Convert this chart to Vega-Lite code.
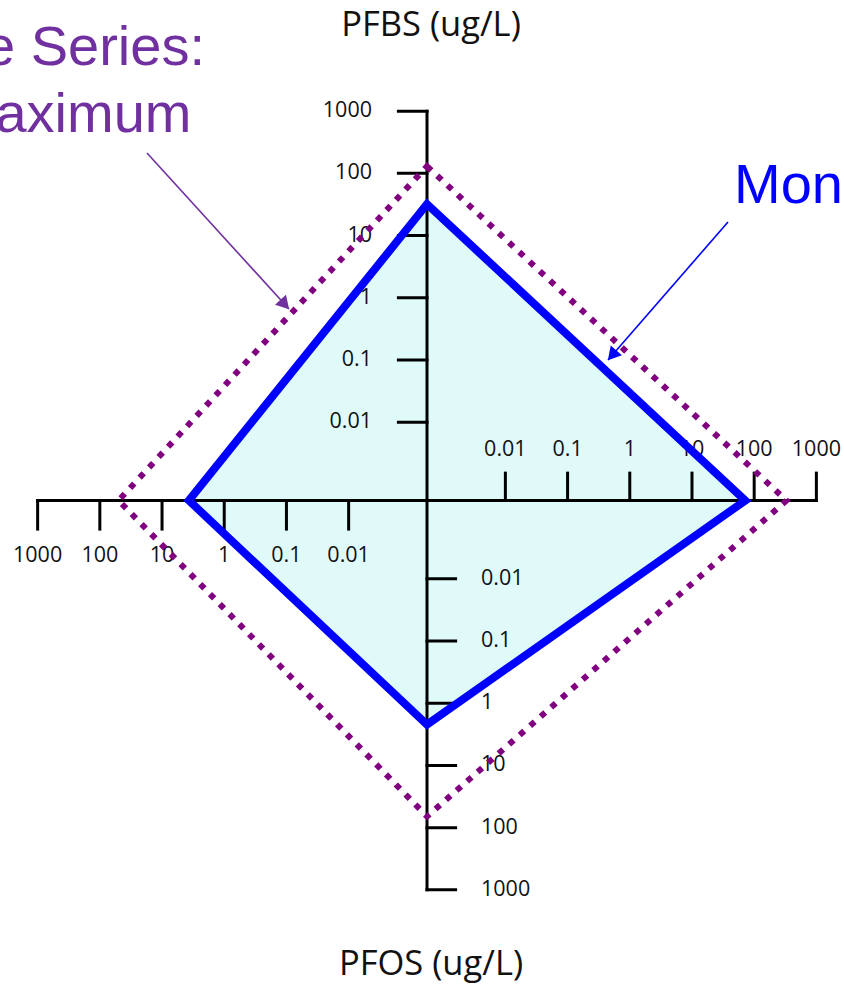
{
  "$schema": "https://vega.github.io/schema/vega-lite/v6.json",
  "width": 844,
  "height": 986,
  "autosize": "none",
  "padding": 0,
  "background": "white",
  "config": {"view": {"stroke": null}},
  "datasets": {
    "profiles": [
      {"series": "Maximum", "axis": "N", "seq": 1, "value": 130},
      {"series": "Maximum", "axis": "E", "seq": 2, "value": 330},
      {"series": "Maximum", "axis": "S", "seq": 3, "value": 66},
      {"series": "Maximum", "axis": "W", "seq": 4, "value": 50},
      {"series": "Monitoring", "axis": "N", "seq": 1, "value": 32},
      {"series": "Monitoring", "axis": "E", "seq": 2, "value": 72},
      {"series": "Monitoring", "axis": "S", "seq": 3, "value": 2.2},
      {"series": "Monitoring", "axis": "W", "seq": 4, "value": 3.7}
    ],
    "ticks": [
      {"axis": "N", "value": 0.01}, {"axis": "N", "value": 0.1}, {"axis": "N", "value": 1},
      {"axis": "N", "value": 10}, {"axis": "N", "value": 100}, {"axis": "N", "value": 1000},
      {"axis": "E", "value": 0.01}, {"axis": "E", "value": 0.1}, {"axis": "E", "value": 1},
      {"axis": "E", "value": 10}, {"axis": "E", "value": 100}, {"axis": "E", "value": 1000},
      {"axis": "S", "value": 0.01}, {"axis": "S", "value": 0.1}, {"axis": "S", "value": 1},
      {"axis": "S", "value": 10}, {"axis": "S", "value": 100}, {"axis": "S", "value": 1000},
      {"axis": "W", "value": 0.01}, {"axis": "W", "value": 0.1}, {"axis": "W", "value": 1},
      {"axis": "W", "value": 10}, {"axis": "W", "value": 100}, {"axis": "W", "value": 1000}
    ],
    "titles": [
      {"text": "PFBS (ug/L)", "x": 0.064, "y": 7.468},
      {"text": "PFOS (ug/L)", "x": 0.064, "y": -7.629}
    ],
    "notes": [
      {"series": "Maximum", "text": "Time Series:", "x": -3.569, "y": 7.002},
      {"series": "Maximum", "text": "Maximum", "x": -3.787, "y": 5.924},
      {"series": "Monitoring", "text": "Monitoring", "x": 4.936, "y": 4.783}
    ],
    "arrows": [
      {"series": "Maximum", "x": -4.502, "y": 5.587, "x2": -2.219, "y2": 3.079},
      {"series": "Monitoring", "x": 4.839, "y": 4.477, "x2": 2.910, "y2": 2.259}
    ]
  },
  "layer": [
    {
      "data": {"name": "profiles"},
      "transform": [
        {"filter": "datum.series === 'Monitoring'"},
        {"calculate": "log(datum.value) / LN10 + 3.26", "as": "r"},
        {"calculate": "datum.axis === 'E' ? datum.r : datum.axis === 'W' ? -datum.r : 0", "as": "px"},
        {"calculate": "datum.axis === 'N' ? datum.r : datum.axis === 'S' ? -datum.r : 0", "as": "py"}
      ],
      "mark": {"type": "line", "interpolate": "linear-closed", "filled": true, "fill": "#E0FAFA", "strokeOpacity": 0},
      "encoding": {
        "x": {"field": "px", "type": "quantitative", "scale": {"domain": [-6.865, 6.704], "nice": false, "zero": false}, "axis": null},
        "y": {"field": "py", "type": "quantitative", "scale": {"domain": [-7.806, 8.047], "nice": false, "zero": false}, "axis": null},
        "order": {"field": "seq", "type": "quantitative"}
      }
    },
    {
      "data": {"name": "ticks"},
      "transform": [
        {"filter": "datum.value === 1000"},
        {"calculate": "log(datum.value) / LN10 + 3.26", "as": "r"},
        {"calculate": "datum.axis === 'E' ? datum.r : datum.axis === 'W' ? -datum.r : 0", "as": "px"},
        {"calculate": "datum.axis === 'N' ? datum.r : datum.axis === 'S' ? -datum.r : 0", "as": "py"},
        {"calculate": "0", "as": "origin"}
      ],
      "mark": {"type": "rule", "color": "#000000", "strokeWidth": 3, "strokeCap": "square"},
      "encoding": {
        "x": {"field": "origin", "type": "quantitative", "scale": {"domain": [-6.865, 6.704], "nice": false, "zero": false}, "axis": null},
        "y": {"field": "origin", "type": "quantitative", "scale": {"domain": [-7.806, 8.047], "nice": false, "zero": false}, "axis": null},
        "x2": {"field": "px"},
        "y2": {"field": "py"}
      }
    },
    {
      "data": {"name": "ticks"},
      "transform": [
        {"calculate": "log(datum.value) / LN10 + 3.26", "as": "r"},
        {"calculate": "datum.axis === 'E' ? datum.r : datum.axis === 'W' ? -datum.r : 0", "as": "px"},
        {"calculate": "datum.axis === 'N' ? datum.r : datum.axis === 'S' ? -datum.r : 0", "as": "py"},
        {"calculate": "datum.px + (datum.axis === 'N' ? -0.46 : datum.axis === 'S' ? 0.46 : 0)", "as": "qx"},
        {"calculate": "datum.py + (datum.axis === 'W' ? -0.46 : datum.axis === 'E' ? 0.44 : 0)", "as": "qy"}
      ],
      "mark": {"type": "rule", "color": "#000000", "strokeWidth": 3, "strokeCap": "square"},
      "encoding": {
        "x": {"field": "px", "type": "quantitative", "scale": {"domain": [-6.865, 6.704], "nice": false, "zero": false}, "axis": null},
        "y": {"field": "py", "type": "quantitative", "scale": {"domain": [-7.806, 8.047], "nice": false, "zero": false}, "axis": null},
        "x2": {"field": "qx"},
        "y2": {"field": "qy"}
      }
    },
    {
      "data": {"name": "ticks"},
      "transform": [
        {"filter": "datum.axis === 'N'"},
        {"calculate": "log(datum.value) / LN10 + 3.26", "as": "r"},
        {"calculate": "0", "as": "origin"}
      ],
      "mark": {"type": "text", "align": "right", "baseline": "middle", "dx": -55, "font": "Open Sans", "fontSize": 21.5, "color": "#111111"},
      "encoding": {
        "x": {"field": "origin", "type": "quantitative", "scale": {"domain": [-6.865, 6.704], "nice": false, "zero": false}, "axis": null},
        "y": {"field": "r", "type": "quantitative", "scale": {"domain": [-7.806, 8.047], "nice": false, "zero": false}, "axis": null},
        "text": {"field": "value", "type": "quantitative", "format": "~g"}
      }
    },
    {
      "data": {"name": "ticks"},
      "transform": [
        {"filter": "datum.axis === 'S'"},
        {"calculate": "-(log(datum.value) / LN10 + 3.26)", "as": "r"},
        {"calculate": "0", "as": "origin"}
      ],
      "mark": {"type": "text", "align": "left", "baseline": "middle", "dx": 54, "font": "Open Sans", "fontSize": 21.5, "color": "#111111"},
      "encoding": {
        "x": {"field": "origin", "type": "quantitative", "scale": {"domain": [-6.865, 6.704], "nice": false, "zero": false}, "axis": null},
        "y": {"field": "r", "type": "quantitative", "scale": {"domain": [-7.806, 8.047], "nice": false, "zero": false}, "axis": null},
        "text": {"field": "value", "type": "quantitative", "format": "~g"}
      }
    },
    {
      "data": {"name": "ticks"},
      "transform": [
        {"filter": "datum.axis === 'W'"},
        {"calculate": "-(log(datum.value) / LN10 + 3.26)", "as": "r"},
        {"calculate": "0", "as": "origin"}
      ],
      "mark": {"type": "text", "align": "center", "baseline": "middle", "dy": 56, "font": "Open Sans", "fontSize": 21.5, "color": "#111111"},
      "encoding": {
        "x": {"field": "r", "type": "quantitative", "scale": {"domain": [-6.865, 6.704], "nice": false, "zero": false}, "axis": null},
        "y": {"field": "origin", "type": "quantitative", "scale": {"domain": [-7.806, 8.047], "nice": false, "zero": false}, "axis": null},
        "text": {"field": "value", "type": "quantitative", "format": "~g"}
      }
    },
    {
      "data": {"name": "ticks"},
      "transform": [
        {"filter": "datum.axis === 'E'"},
        {"calculate": "log(datum.value) / LN10 + 3.26", "as": "r"},
        {"calculate": "0", "as": "origin"}
      ],
      "mark": {"type": "text", "align": "center", "baseline": "middle", "dy": -50, "font": "Open Sans", "fontSize": 21.5, "color": "#111111"},
      "encoding": {
        "x": {"field": "r", "type": "quantitative", "scale": {"domain": [-6.865, 6.704], "nice": false, "zero": false}, "axis": null},
        "y": {"field": "origin", "type": "quantitative", "scale": {"domain": [-7.806, 8.047], "nice": false, "zero": false}, "axis": null},
        "text": {"field": "value", "type": "quantitative", "format": "~g"}
      }
    },
    {
      "data": {"name": "titles"},
      "mark": {"type": "text", "align": "center", "baseline": "alphabetic", "font": "Open Sans", "fontSize": 34.5, "color": "#111111"},
      "encoding": {
        "x": {"field": "x", "type": "quantitative", "scale": {"domain": [-6.865, 6.704], "nice": false, "zero": false}, "axis": null},
        "y": {"field": "y", "type": "quantitative", "scale": {"domain": [-7.806, 8.047], "nice": false, "zero": false}, "axis": null},
        "text": {"field": "text", "type": "nominal"}
      }
    },
    {
      "data": {"name": "profiles"},
      "transform": [
        {"filter": "datum.series === 'Maximum'"},
        {"calculate": "log(datum.value) / LN10 + 3.26", "as": "r"},
        {"calculate": "datum.axis === 'E' ? datum.r : datum.axis === 'W' ? -datum.r : 0", "as": "px"},
        {"calculate": "datum.axis === 'N' ? datum.r : datum.axis === 'S' ? -datum.r : 0", "as": "py"}
      ],
      "mark": {"type": "line", "interpolate": "linear-closed", "color": "#800080", "strokeWidth": 6, "strokeDash": [6, 8], "strokeCap": "butt"},
      "encoding": {
        "x": {"field": "px", "type": "quantitative", "scale": {"domain": [-6.865, 6.704], "nice": false, "zero": false}, "axis": null},
        "y": {"field": "py", "type": "quantitative", "scale": {"domain": [-7.806, 8.047], "nice": false, "zero": false}, "axis": null},
        "order": {"field": "seq", "type": "quantitative"}
      }
    },
    {
      "data": {"name": "profiles"},
      "transform": [
        {"filter": "datum.series === 'Monitoring'"},
        {"calculate": "log(datum.value) / LN10 + 3.26", "as": "r"},
        {"calculate": "datum.axis === 'E' ? datum.r : datum.axis === 'W' ? -datum.r : 0", "as": "px"},
        {"calculate": "datum.axis === 'N' ? datum.r : datum.axis === 'S' ? -datum.r : 0", "as": "py"}
      ],
      "mark": {"type": "line", "interpolate": "linear-closed", "color": "#0000FF", "strokeWidth": 8, "strokeJoin": "miter", "strokeMiterLimit": 10},
      "encoding": {
        "x": {"field": "px", "type": "quantitative", "scale": {"domain": [-6.865, 6.704], "nice": false, "zero": false}, "axis": null},
        "y": {"field": "py", "type": "quantitative", "scale": {"domain": [-7.806, 8.047], "nice": false, "zero": false}, "axis": null},
        "order": {"field": "seq", "type": "quantitative"}
      }
    },
    {
      "data": {"name": "arrows"},
      "mark": {"type": "rule", "strokeWidth": 1.6},
      "encoding": {
        "x": {"field": "x", "type": "quantitative", "scale": {"domain": [-6.865, 6.704], "nice": false, "zero": false}, "axis": null},
        "y": {"field": "y", "type": "quantitative", "scale": {"domain": [-7.806, 8.047], "nice": false, "zero": false}, "axis": null},
        "x2": {"field": "x2"},
        "y2": {"field": "y2"},
        "color": {"field": "series", "type": "nominal", "scale": {"domain": ["Maximum", "Monitoring"], "range": ["#7030A0", "#0000FF"]}, "legend": null}
      }
    },
    {
      "data": {"name": "arrows"},
      "transform": [
        {"calculate": "sqrt(pow(datum.x2 - datum.x, 2) + pow(datum.y2 - datum.y, 2))", "as": "len"},
        {"calculate": "datum.x2 - 0.1 * (datum.x2 - datum.x) / datum.len", "as": "hx"},
        {"calculate": "datum.y2 - 0.1 * (datum.y2 - datum.y) / datum.len", "as": "hy"},
        {"calculate": "(atan2(-(datum.y2 - datum.y), datum.x2 - datum.x) * 180 / PI + 360) % 360", "as": "heading"}
      ],
      "mark": {"type": "point", "shape": "triangle-right", "filled": true, "size": 220, "opacity": 1},
      "encoding": {
        "x": {"field": "hx", "type": "quantitative", "scale": {"domain": [-6.865, 6.704], "nice": false, "zero": false}, "axis": null},
        "y": {"field": "hy", "type": "quantitative", "scale": {"domain": [-7.806, 8.047], "nice": false, "zero": false}, "axis": null},
        "angle": {"field": "heading", "type": "quantitative", "scale": null},
        "color": {"field": "series", "type": "nominal", "scale": {"domain": ["Maximum", "Monitoring"], "range": ["#7030A0", "#0000FF"]}, "legend": null}
      }
    },
    {
      "data": {"name": "notes"},
      "transform": [{"filter": "datum.series === 'Maximum'"}],
      "mark": {"type": "text", "align": "right", "baseline": "alphabetic", "font": "Liberation Sans", "fontSize": 56, "color": "#7030A0"},
      "encoding": {
        "x": {"field": "x", "type": "quantitative", "scale": {"domain": [-6.865, 6.704], "nice": false, "zero": false}, "axis": null},
        "y": {"field": "y", "type": "quantitative", "scale": {"domain": [-7.806, 8.047], "nice": false, "zero": false}, "axis": null},
        "text": {"field": "text", "type": "nominal"}
      }
    },
    {
      "data": {"name": "notes"},
      "transform": [{"filter": "datum.series === 'Monitoring'"}],
      "mark": {"type": "text", "align": "left", "baseline": "alphabetic", "font": "Liberation Sans", "fontSize": 56, "color": "#0000FF"},
      "encoding": {
        "x": {"field": "x", "type": "quantitative", "scale": {"domain": [-6.865, 6.704], "nice": false, "zero": false}, "axis": null},
        "y": {"field": "y", "type": "quantitative", "scale": {"domain": [-7.806, 8.047], "nice": false, "zero": false}, "axis": null},
        "text": {"field": "text", "type": "nominal"}
      }
    }
  ]
}
